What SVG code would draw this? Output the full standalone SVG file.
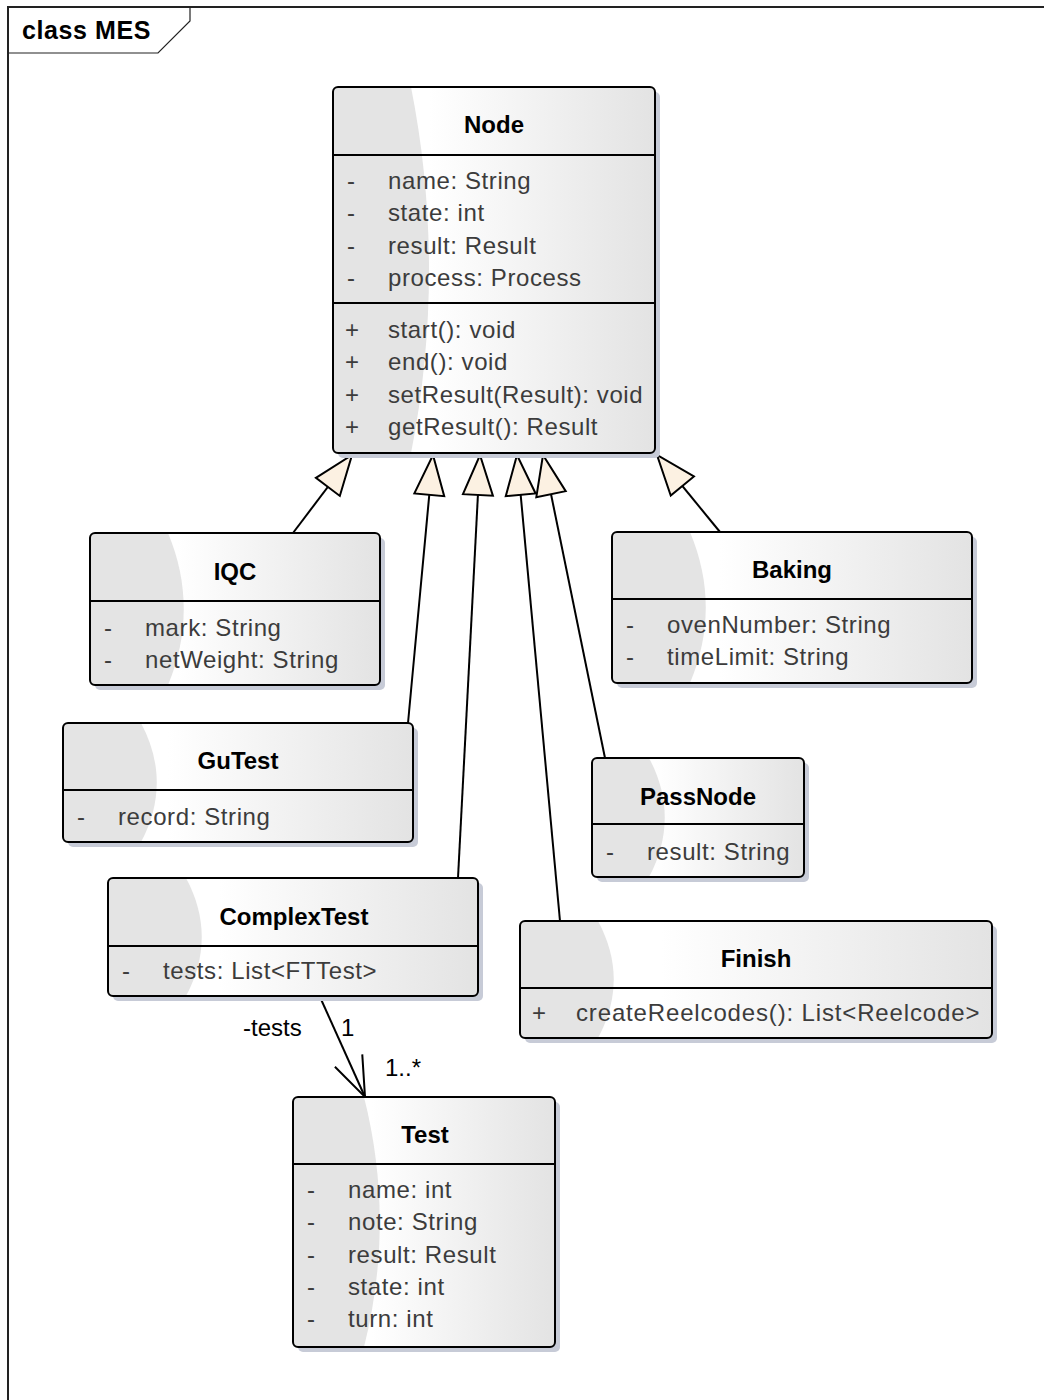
<svg xmlns="http://www.w3.org/2000/svg" width="1044" height="1400" viewBox="0 0 1044 1400">
<style>
.shadow{fill:#c7cbd7}
.body{fill:url(#g)}
.lobe{fill:#e4e4e4}
.border{fill:none;stroke:#000;stroke-width:2}
.div{stroke:#000;stroke-width:2}
.title{font-family:"Liberation Sans",Arial,sans-serif;font-weight:bold;font-size:24px;fill:#000;text-anchor:middle}
.attr{font-family:"Liberation Sans",Arial,sans-serif;font-size:24px;fill:#3c3c3c;letter-spacing:0.6px}
.lbl{font-family:"Liberation Sans",Arial,sans-serif;font-size:24px;fill:#000}
.gen{fill:none;stroke:#000;stroke-width:2;marker-end:url(#tri)}
.assoc{fill:none;stroke:#000;stroke-width:2;marker-end:url(#open)}
</style>
<defs>
<linearGradient id="g" x1="0" y1="0" x2="1" y2="0">
<stop offset="0" stop-color="#ffffff"/>
<stop offset="0.3" stop-color="#ffffff"/>
<stop offset="1" stop-color="#e3e3e3"/>
</linearGradient>
<marker id="tri" markerUnits="userSpaceOnUse" markerWidth="46" markerHeight="36" viewBox="-3 -3 46 36" refX="40" refY="15" orient="auto">
<path d="M0,0 L40,15 L0,30 Z" fill="#fcf1e2" stroke="#000" stroke-width="2"/>
</marker>
<marker id="open" markerUnits="userSpaceOnUse" markerWidth="46" markerHeight="36" viewBox="-3 -3 46 36" refX="40" refY="15" orient="auto">
<path d="M0,0 L40,15 L0,30" fill="none" stroke="#000" stroke-width="2"/>
</marker>
</defs>
<rect x="0" y="0" width="1044" height="1400" fill="#fff"/>
<g id="frame">
<path d="M8,1400 V7 H1044" fill="none" stroke="#222" stroke-width="2"/>
<path d="M8,53 H158 L190,21 V7" fill="none" stroke="#222" stroke-width="1.2"/>
<text x="22" y="39" style="font-family:'Liberation Sans',Arial,sans-serif;font-weight:bold;font-size:25px;letter-spacing:0.6px;fill:#000">class MES</text>
</g>
<g id="connectors">
<path class="gen" d="M293,533 L352,455"/>
<path class="gen" d="M408,723 L433,455"/>
<path class="gen" d="M458,878 L480,455"/>
<path class="gen" d="M560,921 L517,455"/>
<path class="gen" d="M605,758 L543,455"/>
<path class="gen" d="M720,532 L657,455"/>
<path class="assoc" d="M320,997 L365,1097"/>
<text class="lbl" x="243" y="1036">-tests</text>
<text class="lbl" x="341" y="1036">1</text>
<text class="lbl" x="385" y="1076">1..*</text>
</g>
<g id="Node">
<rect class="shadow" x="338" y="92" width="322" height="366" rx="5"/>
<rect class="body" x="333" y="87" width="322" height="366" rx="5"/>
<path class="lobe" d="M411,87 L338,87 Q333,87 333,92 L333,448 Q333,453 338,453 L411,453 C435,332 435,208 411,87 Z"/>
<line class="div" x1="333" y1="155" x2="655" y2="155"/>
<line class="div" x1="333" y1="303" x2="655" y2="303"/>
<rect class="border" x="333" y="87" width="322" height="366" rx="5"/>
<text class="title" x="494" y="133">Node</text>
<text class="attr" x="347" y="189">-</text><text class="attr" x="388" y="189">name: String</text>
<text class="attr" x="347" y="221">-</text><text class="attr" x="388" y="221">state: int</text>
<text class="attr" x="347" y="254">-</text><text class="attr" x="388" y="254">result: Result</text>
<text class="attr" x="347" y="286">-</text><text class="attr" x="388" y="286">process: Process</text>
<text class="attr" x="345" y="338">+</text><text class="attr" x="388" y="338">start(): void</text>
<text class="attr" x="345" y="370">+</text><text class="attr" x="388" y="370">end(): void</text>
<text class="attr" x="345" y="403">+</text><text class="attr" x="388" y="403">setResult(Result): void</text>
<text class="attr" x="345" y="435">+</text><text class="attr" x="388" y="435">getResult(): Result</text>
</g>
<g id="IQC">
<rect class="shadow" x="95" y="538" width="290" height="152" rx="5"/>
<rect class="body" x="90" y="533" width="290" height="152" rx="5"/>
<path class="lobe" d="M168,533 L95,533 Q90,533 90,538 L90,680 Q90,685 95,685 L168,685 C189,635 189,583 168,533 Z"/>
<line class="div" x1="90" y1="601" x2="380" y2="601"/>
<rect class="border" x="90" y="533" width="290" height="152" rx="5"/>
<text class="title" x="235" y="580">IQC</text>
<text class="attr" x="104" y="636">-</text><text class="attr" x="145" y="636">mark: String</text>
<text class="attr" x="104" y="668">-</text><text class="attr" x="145" y="668">netWeight: String</text>
</g>
<g id="Baking">
<rect class="shadow" x="617" y="537" width="360" height="151" rx="5"/>
<rect class="body" x="612" y="532" width="360" height="151" rx="5"/>
<path class="lobe" d="M690,532 L617,532 Q612,532 612,537 L612,678 Q612,683 617,683 L690,683 C711,633 711,582 690,532 Z"/>
<line class="div" x1="612" y1="599" x2="972" y2="599"/>
<rect class="border" x="612" y="532" width="360" height="151" rx="5"/>
<text class="title" x="792" y="578">Baking</text>
<text class="attr" x="626" y="633">-</text><text class="attr" x="667" y="633">ovenNumber: String</text>
<text class="attr" x="626" y="665">-</text><text class="attr" x="667" y="665">timeLimit: String</text>
</g>
<g id="GuTest">
<rect class="shadow" x="68" y="728" width="350" height="119" rx="5"/>
<rect class="body" x="63" y="723" width="350" height="119" rx="5"/>
<path class="lobe" d="M141,723 L68,723 Q63,723 63,728 L63,837 Q63,842 68,842 L141,842 C162,803 162,762 141,723 Z"/>
<line class="div" x1="63" y1="790" x2="413" y2="790"/>
<rect class="border" x="63" y="723" width="350" height="119" rx="5"/>
<text class="title" x="238" y="769">GuTest</text>
<text class="attr" x="77" y="825">-</text><text class="attr" x="118" y="825">record: String</text>
</g>
<g id="PassNode">
<rect class="shadow" x="597" y="763" width="212" height="119" rx="5"/>
<rect class="body" x="592" y="758" width="212" height="119" rx="5"/>
<path class="lobe" d="M649,758 L597,758 Q592,758 592,763 L592,872 Q592,877 597,877 L649,877 C670,838 670,797 649,758 Z"/>
<line class="div" x1="592" y1="824" x2="804" y2="824"/>
<rect class="border" x="592" y="758" width="212" height="119" rx="5"/>
<text class="title" x="698" y="805">PassNode</text>
<text class="attr" x="606" y="860">-</text><text class="attr" x="647" y="860">result: String</text>
</g>
<g id="ComplexTest">
<rect class="shadow" x="113" y="883" width="370" height="118" rx="5"/>
<rect class="body" x="108" y="878" width="370" height="118" rx="5"/>
<path class="lobe" d="M186,878 L113,878 Q108,878 108,883 L108,991 Q108,996 113,996 L186,996 C207,957 207,917 186,878 Z"/>
<line class="div" x1="108" y1="946" x2="478" y2="946"/>
<rect class="border" x="108" y="878" width="370" height="118" rx="5"/>
<text class="title" x="294" y="925">ComplexTest</text>
<text class="attr" x="122" y="979">-</text><text class="attr" x="163" y="979">tests: List&lt;FTTest&gt;</text>
</g>
<g id="Finish">
<rect class="shadow" x="525" y="926" width="472" height="117" rx="5"/>
<rect class="body" x="520" y="921" width="472" height="117" rx="5"/>
<path class="lobe" d="M598,921 L525,921 Q520,921 520,926 L520,1033 Q520,1038 525,1038 L598,1038 C619,999 619,960 598,921 Z"/>
<line class="div" x1="520" y1="988" x2="992" y2="988"/>
<rect class="border" x="520" y="921" width="472" height="117" rx="5"/>
<text class="title" x="756" y="967">Finish</text>
<text class="attr" x="532" y="1021">+</text><text class="attr" x="576" y="1021" textLength="404">createReelcodes(): List&lt;Reelcode&gt;</text>
</g>
<g id="Test">
<rect class="shadow" x="298" y="1102" width="262" height="250" rx="5"/>
<rect class="body" x="293" y="1097" width="262" height="250" rx="5"/>
<path class="lobe" d="M364,1097 L298,1097 Q293,1097 293,1102 L293,1342 Q293,1347 298,1347 L364,1347 C385,1264 385,1180 364,1097 Z"/>
<line class="div" x1="293" y1="1164" x2="555" y2="1164"/>
<rect class="border" x="293" y="1097" width="262" height="250" rx="5"/>
<text class="title" x="425" y="1143">Test</text>
<text class="attr" x="307" y="1198">-</text><text class="attr" x="348" y="1198">name: int</text>
<text class="attr" x="307" y="1230">-</text><text class="attr" x="348" y="1230">note: String</text>
<text class="attr" x="307" y="1263">-</text><text class="attr" x="348" y="1263">result: Result</text>
<text class="attr" x="307" y="1295">-</text><text class="attr" x="348" y="1295">state: int</text>
<text class="attr" x="307" y="1327">-</text><text class="attr" x="348" y="1327">turn: int</text>
</g>
</svg>
